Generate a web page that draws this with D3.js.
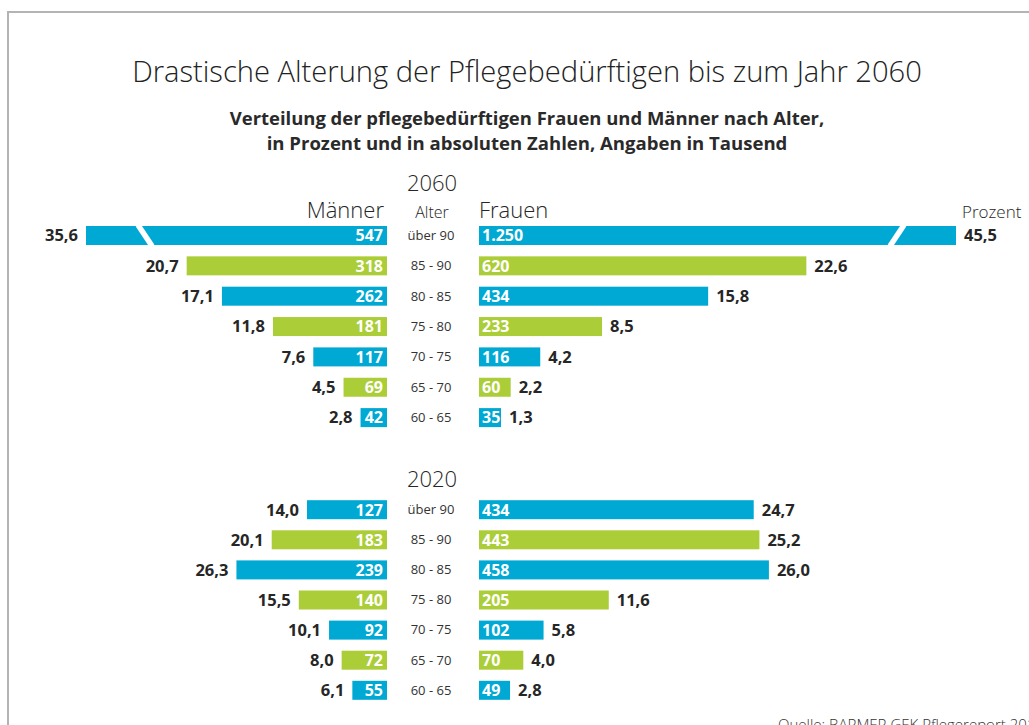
<!DOCTYPE html>
<html>
<head>
<meta charset="utf-8">
<script src="https://cdn.jsdelivr.net/npm/d3@7"></script>
<style>
  body { margin: 0; background: #fff; }
  svg text { font-family: "Open Sans", sans-serif; }
</style>
</head>
<body>
<div id="chart"></div>
<script>

//data (Angaben in Tausend / Prozent)

var ages = ["über 90", "85 - 90", "80 - 85", "75 - 80", "70 - 75", "65 - 70", "60 - 65"];

var men2060Pct = [35.6, 20.7, 17.1, 11.8, 7.6, 4.5, 2.8];
var men2060Abs = [547, 318, 262, 181, 117, 69, 42];
var women2060Pct = [45.5, 22.6, 15.8, 8.5, 4.2, 2.2, 1.3];
var women2060Abs = [1250, 620, 434, 233, 116, 60, 35];

var men2020Pct = [14.0, 20.1, 26.3, 15.5, 10.1, 8.0, 6.1];
var men2020Abs = [127, 183, 239, 140, 92, 72, 55];
var women2020Pct = [24.7, 25.2, 26.0, 11.6, 5.8, 4.0, 2.8];
var women2020Abs = [434, 443, 458, 205, 102, 70, 49];

var years = ["2060", "2020"];

//config

var WD = 1029, HT = 725;
var centerX = 527;
var ageX = 431;
var menRight = 387, womenLeft = 479;
var menMax = 301, womenMax = 477;
var minBar = 22;
var barH = 19;
var blue = "#00a9d3", green = "#abce38";
var dark = "#262626";

var de = d3.formatLocale({ decimal: ",", thousands: ".", grouping: [3], currency: ["", " €"] });
var fmtPct = de.format(",.1f");
var fmtAbs = de.format(",d");

// the graphic draws men and the 2020 women on one scale, the 2060 women a bit compressed
var xMen = d3.scaleLinear().domain([0, 1000]).range([0, 630]);
var xWomen2020 = d3.scaleLinear().domain([0, 1000]).range([0, 633]);
var xWomen2060 = d3.scaleLinear().domain([0, 1000]).range([0, 528]);

var panels = [
  { year: years[0], yearY: 191, top: 226, step: 30.35, men: men2060Abs, menPct: men2060Pct,
    women: women2060Abs, womenPct: women2060Pct, xW: xWomen2060 },
  { year: years[1], yearY: 486.5, top: 500.2, step: 30.1, men: men2020Abs, menPct: men2020Pct,
    women: women2020Abs, womenPct: women2020Pct, xW: xWomen2020 }
];

var svg = d3.select("#chart")
  .append("svg")
    .attr("width", WD)
    .attr("height", HT);

svg.append("rect").attr("width", WD).attr("height", HT).attr("fill", "#fff");

//frame
svg.append("path")
  .attr("d", "M8," + (HT + 5) + "V12H" + (WD + 5))
  .attr("fill", "none")
  .attr("stroke", "#b4b4b4")
  .attr("stroke-width", 2);

function fitText(sel, target) {
  var size = parseFloat(sel.attr("font-size"));
  var len = sel.node().getComputedTextLength();
  sel.attr("font-size", (size * target / len).toFixed(2));
}

//titles
var title = svg.append("text")
  .attr("x", centerX).attr("y", 82)
  .attr("text-anchor", "middle")
  .attr("font-size", 30).attr("font-weight", 300)
  .attr("fill", "#222")
  .text("Drastische Alterung der Pflegebedürftigen bis zum Jahr 2060");
fitText(title, 790);

var sub1 = svg.append("text")
  .attr("x", centerX).attr("y", 125)
  .attr("text-anchor", "middle")
  .attr("font-size", 18).attr("font-weight", 700)
  .attr("fill", "#2a2a2a")
  .text("Verteilung der pflegebedürftigen Frauen und Männer nach Alter,");
fitText(sub1, 595);

var sub2 = svg.append("text")
  .attr("x", centerX).attr("y", 150)
  .attr("text-anchor", "middle")
  .attr("font-size", 18).attr("font-weight", 700)
  .attr("fill", "#2a2a2a")
  .text("in Prozent und in absoluten Zahlen, Angaben in Tausend");
fitText(sub2, 521);

//column heads
svg.append("text").attr("x", 384).attr("y", 218).attr("text-anchor", "end")
  .attr("font-size", 22).attr("font-weight", 300).attr("fill", dark).text("Männer");
svg.append("text").attr("x", ageX + 1).attr("y", 218).attr("text-anchor", "middle")
  .attr("font-size", 16).attr("font-weight", 300).attr("fill", dark).text("Alter");
svg.append("text").attr("x", womenLeft).attr("y", 218)
  .attr("font-size", 22).attr("font-weight", 300).attr("fill", dark).text("Frauen");
svg.append("text").attr("x", 962).attr("y", 218)
  .attr("font-size", 17).attr("font-weight", 300).attr("fill", dark).text("Prozent");

panels.forEach(function(p) {

  var pad = 1 - barH / p.step;
  var y = d3.scaleBand()
    .domain(ages)
    .range([p.top, p.top + p.step * (ages.length - pad)])
    .paddingInner(pad)
    .paddingOuter(0);

  var g = svg.append("g").attr("class", "panel-" + p.year);

  g.append("text")
    .attr("x", ageX + 1).attr("y", p.yearY)
    .attr("text-anchor", "middle")
    .attr("font-size", 22).attr("font-weight", 300)
    .attr("fill", dark)
    .text(p.year);

  var rows = ages.map(function(a, i) {
    return { age: a, i: i, m: p.men[i], mp: p.menPct[i], w: p.women[i], wp: p.womenPct[i] };
  });

  var row = g.selectAll("g.row")
    .data(rows)
    .enter().append("g")
      .attr("class", "row")
      .attr("transform", function(d) { return "translate(0," + y(d.age) + ")"; });

  var color = function(d) { return d.i % 2 == 0 ? blue : green; };
  var mW = function(d) { return Math.max(minBar, Math.min(xMen(d.m), menMax)); };
  var wW = function(d) { return Math.max(minBar, Math.min(p.xW(d.w), womenMax)); };

  //bars
  row.append("rect")
    .attr("x", function(d) { return menRight - mW(d); })
    .attr("width", mW)
    .attr("height", y.bandwidth())
    .attr("fill", color);

  row.append("rect")
    .attr("x", womenLeft)
    .attr("width", wW)
    .attr("height", y.bandwidth())
    .attr("fill", color);

  // break marks on cut bars
  row.filter(function(d) { return xMen(d.m) > menMax; })
    .append("line")
      .attr("x1", menRight - menMax + 52).attr("y1", -1)
      .attr("x2", menRight - menMax + 66).attr("y2", y.bandwidth() + 1)
      .attr("stroke", "#fff").attr("stroke-width", 5.5);

  row.filter(function(d) { return p.xW(d.w) > womenMax; })
    .append("line")
      .attr("x1", womenLeft + womenMax - 52).attr("y1", -1)
      .attr("x2", womenLeft + womenMax - 66).attr("y2", y.bandwidth() + 1)
      .attr("stroke", "#fff").attr("stroke-width", 5.5);

  var ty = y.bandwidth() / 2 + 5.8;

  //values inside
  row.append("text")
    .attr("x", menRight - 4).attr("y", ty)
    .attr("text-anchor", "end")
    .attr("font-size", 16).attr("font-weight", 700)
    .attr("fill", "#fff")
    .text(function(d) { return fmtAbs(d.m); });

  row.append("text")
    .attr("x", womenLeft + 3).attr("y", ty)
    .attr("font-size", 16).attr("font-weight", 700)
    .attr("fill", "#fff")
    .text(function(d) { return fmtAbs(d.w); });

  //percent outside
  row.append("text")
    .attr("x", function(d) { return menRight - mW(d) - 8; }).attr("y", ty)
    .attr("text-anchor", "end")
    .attr("font-size", 16.5).attr("font-weight", 700)
    .attr("fill", dark)
    .text(function(d) { return fmtPct(d.mp); });

  row.append("text")
    .attr("x", function(d) { return womenLeft + wW(d) + 8; }).attr("y", ty)
    .attr("font-size", 16.5).attr("font-weight", 700)
    .attr("fill", dark)
    .text(function(d) { return fmtPct(d.wp); });

  //age labels
  row.append("text")
    .attr("x", ageX).attr("y", ty - 1.5)
    .attr("text-anchor", "middle")
    .attr("font-size", 13).attr("font-weight", 400)
    .attr("fill", "#333")
    .text(function(d) { return d.age; });
});

//source (cut by the frame edge like the original)
svg.append("text")
  .attr("x", 778).attr("y", 730)
  .attr("font-size", 15).attr("font-weight", 300)
  .attr("fill", "#333")
  .text("Quelle: BARMER GEK Pflegereport 2012");

</script>
</body>
</html>
